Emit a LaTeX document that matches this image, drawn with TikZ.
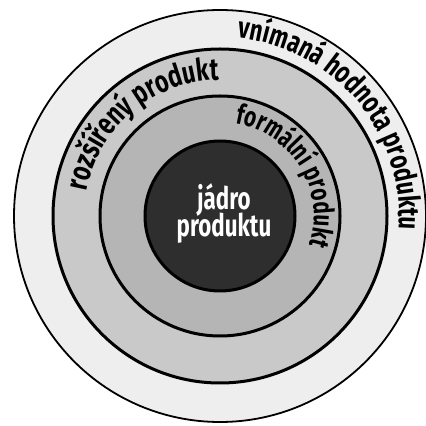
\documentclass[tikz,border=0pt]{standalone}
\usepackage{fontspec}
\usetikzlibrary{decorations.text}
\newfontfamily\condfont[FakeStretch=0.72]{Fira Sans}
\newfontfamily\ringfont[FakeStretch=0.74]{Fira Sans}
\tikzset{
  ring/.style={draw=black, line width=#1},
  ringtext/.style 2 args={decorate, decoration={text along path, text align=center,
     text={|\ringfont\bfseries\fontsize{#1}{#1}\selectfont|#2}}},
}
\begin{document}
\begin{tikzpicture}[x=1pt,y=1pt]
\useasboundingbox (0,0) rectangle (426,426);
\fill[white] (0,0) rectangle (426,426);
\coordinate (c) at (220,210);
% bands
\fill[gray!13] (c) circle[radius=206];
\fill[gray!42] (c) circle[radius=167];
\fill[gray!58] (c) circle[radius=120];
\fill[black!82] (c) circle[radius=75];
% boundaries
\draw[ring=1.8pt] (c) circle[radius=206];
\draw[ring=3pt] (c) circle[radius=167];
\draw[ring=3pt] (c) circle[radius=120];
\draw[ring=3pt] (c) circle[radius=75];
% ring texts
\path[ringtext={30}{vnímaná hodnota produktu}] (c) ++(90:179) arc[start angle=90, end angle=-10, radius=179];
\path[ringtext={31}{rozšířený produkt}] (c) ++(175:136) arc[start angle=175, end angle=85, radius=136];
\path[ringtext={28}{formální produkt}] (c) ++(88:94) arc[start angle=88, end angle=-26, radius=94];
% core
\node[text=white, font=\condfont\bfseries\fontsize{31}{32}\selectfont, align=center] (core) at (224,212) {jádro\\[-5pt]produktu};
\end{tikzpicture}
\end{document}
